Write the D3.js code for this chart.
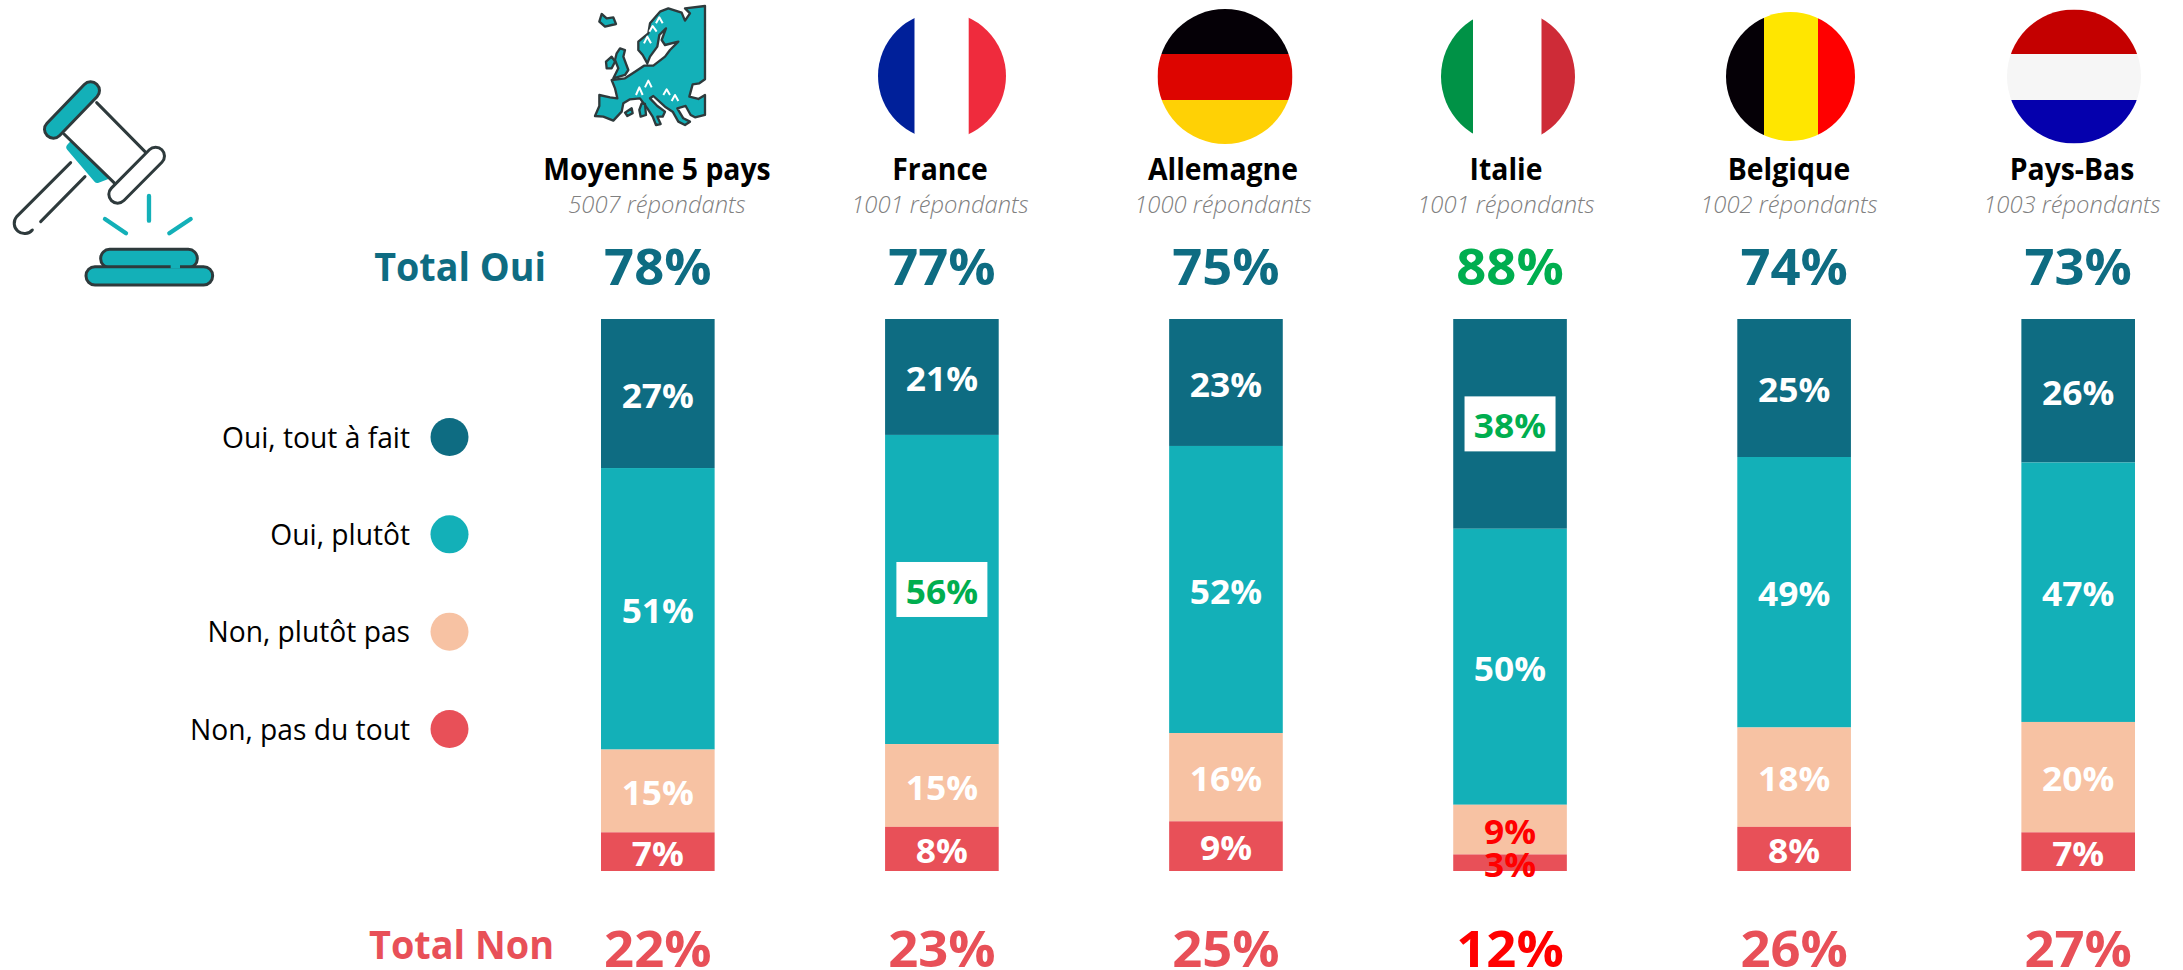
<!DOCTYPE html>
<html>
<head>
<meta charset="utf-8">
<script src="https://d3js.org/d3.v7.min.js"></script>
<style>
  html, body { margin: 0; background: #fff; }
  svg { display: block; }
  text { font-family: "Open Sans", sans-serif; }
</style>
</head>
<body>
<script>
// data
const countries   = ["Moyenne 5 pays", "France", "Allemagne", "Italie", "Belgique", "Pays-Bas"];
const respondents = ["5007 répondants", "1001 répondants", "1000 répondants", "1001 répondants", "1002 répondants", "1003 répondants"];
const answers     = ["Oui, tout à fait", "Oui, plutôt", "Non, plutôt pas", "Non, pas du tout"];
const ouiToutAFait = [27, 21, 23, 38, 25, 26];
const ouiPlutot    = [51, 56, 52, 50, 49, 47];
const nonPlutotPas = [15, 15, 16,  9, 18, 20];
const nonPasDuTout = [ 7,  8,  9,  3,  8,  7];
const totalOui = [78, 77, 75, 88, 74, 73];
const totalNon = [22, 23, 25, 12, 26, 27];

const answerColors = ["#0e6c82", "#13b0b8", "#f7c2a3", "#e85058"];
const darkLine = "#2e3a3c";
const green = "#00ae4f";
const red = "#ff0000";
const width = 2183, height = 970;

const series = [ouiToutAFait, ouiPlutot, nonPlutotPas, nonPasDuTout];
const rows = countries.map((c, i) => {
  const row = { country: c };
  answers.forEach((a, j) => { row[a] = series[j][i]; });
  return row;
});

const svg = d3.select("body").append("svg")
  .attr("width", width)
  .attr("height", height);

const x = d3.scaleBand().domain(countries).range([601, 2135]).paddingInner(0.6).paddingOuter(0);
const y = d3.scaleLinear().domain([0, 100]).range([319, 871]);
const cx = c => x(c) + x.bandwidth() / 2;
// the headers sit on a slightly tighter spacing than the bars
const headerX = d3.scalePoint().domain(countries).range([657, 2072]);

// the reference font has other proportions than Open Sans, so fit the glyphs
function squeeze(sel, k) {
  sel.each(function() {
    this.setAttribute("textLength", this.getComputedTextLength() * k);
    this.setAttribute("lengthAdjust", "spacingAndGlyphs");
  });
}

// stacked bars
const stacked = d3.stack().keys(answers)(rows);

const layers = svg.selectAll("g.layer")
  .data(stacked)
  .enter()
  .append("g")
  .attr("class", "layer")
  .attr("fill", (d, i) => answerColors[i]);

layers.selectAll("rect")
  .data(d => d)
  .enter()
  .append("rect")
  .attr("x", d => x(d.data.country))
  .attr("y", d => y(d[0]))
  .attr("width", x.bandwidth())
  .attr("height", d => y(d[1]) - y(d[0]));

// white boxes behind the highlighted values
const boxed = [["France", "Oui, plutôt"], ["Italie", "Oui, tout à fait"]];
const isBoxed = (country, key) => boxed.some(b => b[0] === country && b[1] === key);

const cells = stacked.flatMap(s => s.map(d => ({
  country: d.data.country,
  key: s.key,
  value: d.data[s.key],
  mid: (d[0] + d[1]) / 2
})));

svg.selectAll("rect.box")
  .data(cells.filter(d => isBoxed(d.country, d.key)))
  .enter()
  .append("rect")
  .attr("class", "box")
  .attr("x", d => cx(d.country) - 45.5)
  .attr("y", d => y(d.mid) - 27.5)
  .attr("width", 91)
  .attr("height", 55)
  .attr("fill", "#fff");

svg.selectAll("text.value")
  .data(cells)
  .enter()
  .append("text")
  .attr("class", "value")
  .attr("x", d => cx(d.country))
  .attr("y", d => y(d.mid) + 2)
  .attr("dy", "0.36em")
  .attr("text-anchor", "middle")
  .attr("font-size", 34)
  .attr("font-weight", 700)
  .attr("fill", d => {
    if (isBoxed(d.country, d.key)) return green;
    if (d.country === "Italie" && d.key.startsWith("Non")) return red;
    return "#fff";
  })
  .text(d => d.value + "%")
  .call(squeeze, 1.04);

// country headers
svg.selectAll("text.country")
  .data(countries)
  .enter()
  .append("text")
  .attr("class", "country")
  .attr("x", headerX)
  .attr("y", 180)
  .attr("text-anchor", "middle")
  .attr("font-size", 30)
  .attr("font-weight", 700)
  .attr("fill", "#000")
  .text(d => d)
  .call(squeeze, 0.945);

svg.selectAll("text.resp")
  .data(respondents)
  .enter()
  .append("text")
  .attr("class", "resp")
  .attr("x", (d, i) => headerX(countries[i]))
  .attr("y", 213)
  .attr("text-anchor", "middle")
  .attr("font-size", 24)
  .attr("font-style", "italic")
  .attr("font-weight", 300)
  .attr("fill", "#808080")
  .text(d => d)
  .call(squeeze, 0.99);

// totals
svg.selectAll("text.oui")
  .data(totalOui)
  .enter()
  .append("text")
  .attr("class", "oui")
  .attr("x", (d, i) => cx(countries[i]))
  .attr("y", 285)
  .attr("text-anchor", "middle")
  .attr("font-size", 51)
  .attr("font-weight", 700)
  .attr("fill", (d, i) => countries[i] === "Italie" ? green : answerColors[0])
  .text(d => d + "%")
  .call(squeeze, 1.03);

svg.selectAll("text.non")
  .data(totalNon)
  .enter()
  .append("text")
  .attr("class", "non")
  .attr("x", (d, i) => cx(countries[i]))
  .attr("y", 967)
  .attr("text-anchor", "middle")
  .attr("font-size", 51)
  .attr("font-weight", 700)
  .attr("fill", (d, i) => countries[i] === "Italie" ? red : answerColors[3])
  .text(d => d + "%")
  .call(squeeze, 1.03);

svg.append("text")
  .attr("x", 546).attr("y", 281)
  .attr("text-anchor", "end")
  .attr("font-size", 39).attr("font-weight", 700)
  .attr("fill", answerColors[0])
  .text("Total Oui")
  .call(squeeze, 0.966);

svg.append("text")
  .attr("x", 554).attr("y", 959)
  .attr("text-anchor", "end")
  .attr("font-size", 39).attr("font-weight", 700)
  .attr("fill", answerColors[3])
  .text("Total Non")
  .call(squeeze, 0.97);

// legend
const legendY = d3.scalePoint().domain(answers).range([437, 729]);

const legend = svg.selectAll("g.legend")
  .data(answers)
  .enter()
  .append("g")
  .attr("class", "legend")
  .attr("transform", d => "translate(0," + legendY(d) + ")");

legend.append("circle")
  .attr("cx", 449.5)
  .attr("r", 19)
  .attr("fill", (d, i) => answerColors[i]);

legend.append("text")
  .attr("x", 410)
  .attr("dy", "0.36em")
  .attr("text-anchor", "end")
  .attr("font-size", 30)
  .attr("fill", "#000")
  .text(d => d)
  .call(squeeze, 0.94);

// flags
const flagColors = [
  ["#00209a", "#ffffff", "#ef2b3d"],
  ["#050006", "#dd0500", "#ffd105"],
  ["#009246", "#ffffff", "#ce2b37"],
  ["#050006", "#ffe600", "#ff0000"],
  ["#c40000", "#f6f6f6", "#0500ad"]
];
const flagBoxes = [
  { cx: 942,    cy: 76,   r: 64,   cuts: [914.7, 968.7], vertical: true },
  { cx: 1225,   cy: 76.5, r: 67.5, cuts: [54, 100],      vertical: false },
  { cx: 1508,   cy: 76.5, r: 67,   cuts: [1473, 1541.5], vertical: true },
  { cx: 1790.5, cy: 76.5, r: 64.5, cuts: [1764, 1818],   vertical: true },
  { cx: 2074,   cy: 76.5, r: 67,   cuts: [54, 100],      vertical: false }
];

flagBoxes.forEach((f, i) => {
  svg.append("clipPath").attr("id", "flag" + i)
    .append("circle").attr("cx", f.cx).attr("cy", f.cy).attr("r", f.r);
  const lo = f.vertical ? f.cx - f.r : f.cy - f.r;
  const hi = f.vertical ? f.cx + f.r : f.cy + f.r;
  const edges = [lo, f.cuts[0], f.cuts[1], hi];
  svg.append("g").attr("clip-path", "url(#flag" + i + ")")
    .selectAll("rect")
    .data(flagColors[i])
    .enter()
    .append("rect")
    .attr("x", (d, j) => f.vertical ? edges[j] : f.cx - f.r)
    .attr("y", (d, j) => f.vertical ? f.cy - f.r : edges[j])
    .attr("width", (d, j) => f.vertical ? edges[j + 1] - edges[j] : 2 * f.r)
    .attr("height", (d, j) => f.vertical ? 2 * f.r : edges[j + 1] - edges[j])
    .attr("fill", d => d);
});

// gavel icon, traced at 3x
const gavel = svg.append("g")
  .attr("transform", "translate(0,60) scale(0.3333)")
  .attr("fill", "none")
  .attr("stroke-linecap", "round")
  .attr("stroke-linejoin", "round");

gavel.append("path").attr("d", "M210,262L232,238L325,345L292,358Z")
  .attr("fill", answerColors[1]).attr("stroke", answerColors[1]).attr("stroke-width", 22);
gavel.append("path").attr("d", "M290,128L435,275L342,368L192,222Z")
  .attr("fill", "#fff");
gavel.append("path").attr("d", "M290,128L435,275M192,222L342,368")
  .attr("stroke", darkLine).attr("stroke-width", 9);
gavel.append("path").attr("d", "M212,308L50,470A26,26 0 0 0 97,510M255,350L122,485")
  .attr("stroke", darkLine).attr("stroke-width", 9);
gavel.append("path").attr("d", "M272,92L160,208").attr("stroke", darkLine).attr("stroke-width", 62);
gavel.append("path").attr("d", "M272,92L160,208").attr("stroke", answerColors[1]).attr("stroke-width", 44);
gavel.append("path").attr("d", "M467,288L353,403").attr("stroke", darkLine).attr("stroke-width", 62);
gavel.append("path").attr("d", "M467,288L353,403").attr("stroke", "#fff").attr("stroke-width", 44);
gavel.append("path").attr("d", "M447,408L447,482M315,477L378,520M572,477L508,520")
  .attr("stroke", answerColors[1]).attr("stroke-width", 13);
gavel.append("rect").attr("x", 302).attr("y", 568).attr("width", 290).attr("height", 55).attr("rx", 27)
  .attr("fill", answerColors[1]).attr("stroke", darkLine).attr("stroke-width", 9);
gavel.append("rect").attr("x", 258).attr("y", 620).attr("width", 380).attr("height", 55).attr("rx", 27)
  .attr("fill", answerColors[1]).attr("stroke", darkLine).attr("stroke-width", 9);
gavel.append("path").attr("d", "M512,620L540,620")
  .attr("stroke", answerColors[1]).attr("stroke-width", 11).attr("stroke-linecap", "butt");

// Europe icon, traced at 3x
const europe = svg.append("g")
  .attr("transform", "translate(570,0) scale(0.3333)")
  .attr("fill", answerColors[1])
  .attr("stroke", darkLine)
  .attr("stroke-width", 7)
  .attr("stroke-linejoin", "round");

const europeShapes = [
  "M405,18L405,238L388,250L368,253L358,290L385,297L405,285L405,345L375,352L362,345L347,318L322,325L340,355L360,365L345,375L325,365L308,335L285,320L250,288L240,295L262,318L285,335L278,350L262,350L272,372L258,375L248,350L232,325L210,295L180,298L160,310L155,335L130,362L100,350L75,348L88,318L88,285L120,292L142,295L135,265L125,240L165,235L195,215L222,197L250,197L285,170L300,150L325,125L285,135L275,120L288,85L268,105L262,140L240,170L232,190L218,165L205,150L205,125L235,100L240,70L270,35L295,25L335,38L345,62L360,40L345,25Z",
  "M150,145L165,150L160,170L175,210L165,225L130,235L145,205L135,180L140,160Z",
  "M108,185L125,170L135,185L125,205L110,205Z",
  "M88,65L95,42L110,55L130,52L138,72L105,80Z",
  "M215,310L225,312L228,345L212,350L208,330Z",
  "M165,338L185,325L188,340L172,348Z"
];
europe.selectAll("path")
  .data(europeShapes)
  .enter()
  .append("path")
  .attr("d", d => d);

europe.append("path")
  .attr("d", "M238,95L248,78L260,95M258,70L268,52L278,70M222,130L232,110L243,130M198,285L208,262L218,285M225,262L235,242L245,262M280,285L290,268L300,285M305,303L315,285L325,303")
  .attr("fill", "none")
  .attr("stroke", "#fff")
  .attr("stroke-width", 6);
</script>
</body>
</html>
